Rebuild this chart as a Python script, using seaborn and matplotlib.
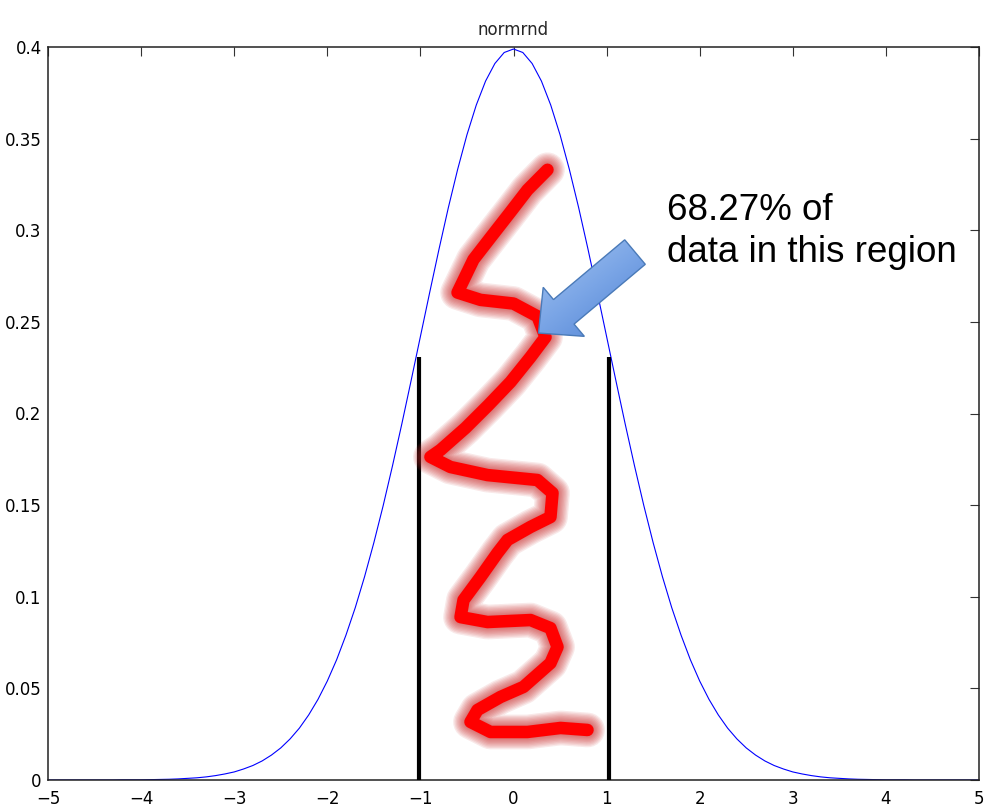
import matplotlib
matplotlib.use("Agg")
import matplotlib.pyplot as plt
import seaborn as sns
import numpy as np
import pandas as pd
from matplotlib.patches import Polygon
from matplotlib.transforms import IdentityTransform
from matplotlib.colors import LinearSegmentedColormap

# ---------------- data ----------------
curve_x = [round(-5 + 0.1 * i, 1) for i in range(101)]
half = [0.3989, 0.3970, 0.3910, 0.3814, 0.3683, 0.3521, 0.3332, 0.3123, 0.2897, 0.2661,
        0.2420, 0.2179, 0.1942, 0.1714, 0.1497, 0.1295, 0.1109, 0.0940, 0.0790, 0.0656,
        0.0540, 0.0440, 0.0355, 0.0283, 0.0224, 0.0175, 0.0136, 0.0104, 0.0079, 0.0060,
        0.0044, 0.0033, 0.0024, 0.0017, 0.0012, 0.0009, 0.0006, 0.0004, 0.0003, 0.0002,
        0.0001, 0.0001, 0.0001, 0.0000, 0.0000, 0.0000, 0.0000, 0.0000, 0.0000, 0.0000,
        0.0000]
curve_y = half[::-1] + half[1:]

bound_x = [-1.02, 1.03]
bound_top = [0.2306, 0.2306]

squiggle_x = [0.365, 0.150, -0.032, -0.247, -0.430, -0.601, -0.354, 0.000, 0.258, 0.344,
              0.183, -0.032, -0.269, -0.516, -0.784, -0.892, -0.677, -0.279, 0.258, 0.419,
              0.397, 0.183, -0.064, -0.172, -0.354, -0.537, -0.569, -0.279, 0.183, 0.397,
              0.473, 0.397, 0.107, -0.140, -0.387, -0.462, -0.247, 0.150, 0.505, 0.795]
squiggle_y = [0.333, 0.322, 0.310, 0.296, 0.284, 0.266, 0.262, 0.260, 0.253, 0.2417,
              0.2308, 0.2172, 0.2046, 0.1921, 0.1801, 0.1763, 0.1708, 0.1664, 0.1637, 0.1566,
              0.1435, 0.1381, 0.1310, 0.1239, 0.1108, 0.0982, 0.0889, 0.0862, 0.0873, 0.0829,
              0.0726, 0.0638, 0.0508, 0.0453, 0.0382, 0.0317, 0.0262, 0.0262, 0.0284, 0.0273]

x_ticks = [-5, -4, -3, -2, -1, 0, 1, 2, 3, 4, 5]
x_ticklabels = ["\u22125", "\u22124", "\u22123", "\u22122", "\u22121", "0", "1", "2", "3", "4", "5"]
y_ticks = [0, 0.05, 0.1, 0.15, 0.2, 0.25, 0.3, 0.35, 0.4]
y_ticklabels = ["0", "0.05", "0.1", "0.15", "0.2", "0.25", "0.3", "0.35", "0.4"]

title = "normrnd"
note = "68.27% of\ndata in this region"
arrow_tip = (0.2685, 0.2439)
arrow_tail = (1.305, 0.2881)
note_pos = (1.654, 0.2995)

# ---------------- plot ----------------
sns.set_style("white")
plt.rcParams["font.family"] = ["DejaVu Sans"]

fig = plt.figure(figsize=(9.92, 8.07), dpi=100)
ax = fig.add_axes([48 / 992, 27 / 807, 931 / 992, 733 / 807])
ax.set_xlim(-5, 5)
ax.set_ylim(0, 0.4)

df = pd.DataFrame({"x": curve_x, "y": curve_y})
sns.lineplot(data=df, x="x", y="y", ax=ax, color="#0000ff", linewidth=0.8,
             sort=False, estimator=None, zorder=2)

ax.vlines(bound_x, [0, 0], bound_top, colors="black", linewidth=3.0, zorder=3)

# red squiggle with glow
sq = pd.DataFrame({"x": squiggle_x, "y": squiggle_y})
for w in np.linspace(25, 10, 9):
    ax.plot(sq["x"], sq["y"], color="#c82828", alpha=0.10, linewidth=w,
            solid_capstyle="round", solid_joinstyle="round", zorder=4)
sns.lineplot(data=sq, x="x", y="y", ax=ax, sort=False, estimator=None, color="#ff0000",
             linewidth=9, zorder=5, solid_capstyle="round", solid_joinstyle="round")

# blue block arrow with gradient (built in display space from data endpoints)
tip = ax.transData.transform(arrow_tip)
tail = ax.transData.transform(arrow_tail)
d = tip - tail
L = np.hypot(*d)
u = d / L
n = np.array([-u[1], u[0]])
head_len, head_w, tail_w = 33.0, 64.0, 32.0
base = tip - u * head_len
pts = np.array([
    tail + n * tail_w / 2, base + n * tail_w / 2, base + n * head_w / 2, tip,
    base - n * head_w / 2, base - n * tail_w / 2, tail - n * tail_w / 2,
])
poly = Polygon(pts, closed=True, transform=IdentityTransform(), fc="none",
               ec="#4a7ab8", lw=1.0, zorder=7)
ax.add_patch(poly)

(x0, y0) = pts.min(axis=0) - 2
(x1, y1) = pts.max(axis=0) + 2
gx, gy = np.meshgrid(np.linspace(x0, x1, 120), np.linspace(y1, y0, 120))
ctr = (pts.min(axis=0) + pts.max(axis=0)) / 2
grad = (gx - ctr[0]) * (-0.6) + (gy - ctr[1]) * 0.8
grad = (grad - grad.min()) / (grad.max() - grad.min())
cmap = LinearSegmentedColormap.from_list("blu", ["#4c7fd2", "#7aa5e6", "#a9c8f2"])
inv = ax.transData.inverted()
(dx0, dy0) = inv.transform((x0, y0))
(dx1, dy1) = inv.transform((x1, y1))
im = ax.imshow(grad, extent=[dx0, dx1, dy0, dy1], aspect="auto", cmap=cmap,
               origin="upper", zorder=6, interpolation="bilinear")
clip = Polygon(pts, closed=True, transform=IdentityTransform())
im.set_clip_path(clip)

ax.text(note_pos[0], note_pos[1], note, fontsize=26.5, family=["Liberation Sans"],
        ha="left", va="center", linespacing=1.27, color="black", zorder=8)

ax.set_xlim(-5, 5)
ax.set_ylim(0, 0.4)
ax.set_xticks(x_ticks)
ax.set_xticklabels(x_ticklabels)
ax.set_yticks(y_ticks)
ax.set_yticklabels(y_ticklabels)
ax.set_xlabel("")
ax.set_ylabel("")
ax.set_title(title, fontsize=12, pad=8.5)

ax.tick_params(axis="both", direction="in", length=6.5, width=0.8, color="#333333",
               labelsize=12, top=True, right=True, labelcolor="black")
ax.tick_params(axis="x", pad=7.0)
ax.tick_params(axis="y", pad=4.5)
for s in ax.spines.values():
    s.set_visible(True)
    s.set_color("#222222")
    s.set_linewidth(1.1)

fig.savefig("out.png", dpi=100)
